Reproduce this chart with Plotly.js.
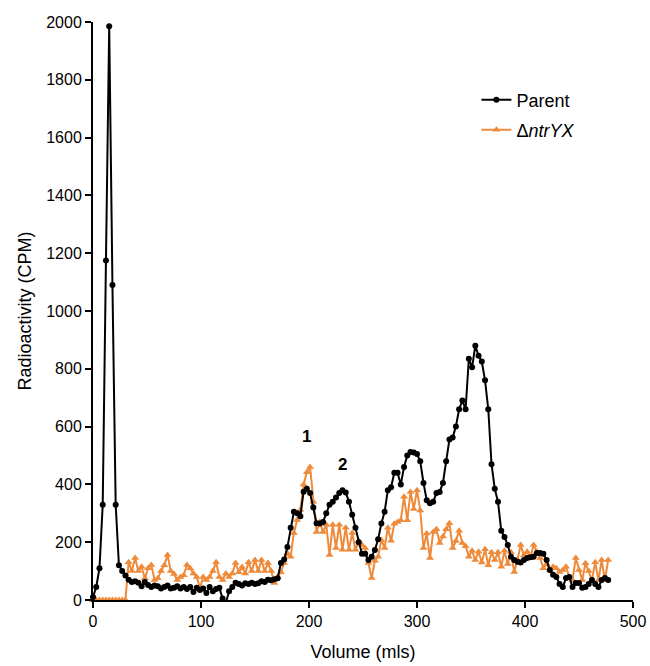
<!DOCTYPE html>
<html>
<head>
<meta charset="utf-8">
<script src="https://cdn.plot.ly/plotly-3.0.1.min.js"></script>
<style>html,body{margin:0;padding:0;background:#fff;}#chart{width:650px;height:666px;}</style>
</head>
<body>
<div id="chart"></div>
<script>
// Parent: fractions every 3 mL from 0 to 477
const parentStart = 0;
const parentY = [
10,45,110,330,1175,1985,1090,330,120,100,
85,70,62,65,60,48,62,52,45,50,
48,40,45,50,40,42,48,40,45,38,
45,28,42,35,40,24,45,30,38,42,
5,-10,30,45,60,55,50,58,55,60,
55,58,65,62,70,68,72,75,128,140,
183,250,305,300,290,375,385,370,320,266,
265,270,300,330,340,355,370,380,372,340,
295,250,200,160,160,138,150,173,210,265,
305,380,390,440,440,400,460,500,512,510,
505,480,405,345,335,340,370,374,405,480,
555,562,600,660,690,660,835,805,880,845,
825,760,660,470,385,340,240,218,190,150,
138,132,130,138,145,148,150,163,163,160,
138,104,87,80,55,45,76,80,45,59,
59,42,45,55,69,55,45,69,76,69
];
// ΔntrYX: fractions every 3 mL from 0 to 477
const mutantY = [
0,0,0,0,0,0,0,0,0,0,
0,131,100,145,100,115,75,110,121,69,
75,100,120,156,100,90,69,80,86,121,
110,92,80,41,80,69,80,100,131,80,
69,92,80,92,128,96,114,92,131,100,
138,100,138,100,128,100,59,80,96,128,
162,150,232,277,311,400,442,460,340,235,
270,235,260,156,260,180,260,174,250,174,
232,174,204,190,180,128,76,136,150,208,
180,250,205,264,270,276,357,276,374,315,
380,310,180,230,145,235,245,197,220,245,
266,180,204,240,197,186,150,170,138,167,
130,176,120,165,138,165,115,170,125,165,
97,140,190,155,167,145,190,167,145,110,
125,104,115,110,97,104,115,80,69,145,
104,69,127,100,69,131,69,138,69,138
];
const step = 3;
const parentX = parentY.map((_, i) => parentStart + i * step);
const mutantX = mutantY.map((_, i) => i * step);

const xTicks = [0, 100, 200, 300, 400, 500];
const yTicks = [0, 200, 400, 600, 800, 1000, 1200, 1400, 1600, 1800, 2000];
const peakLabels = ["1", "2"];
const peakX = [198, 231];
const peakY = [565, 470];

const FONT = "Liberation Sans, Arial, Helvetica, sans-serif";
const ORANGE = "#EF8A3A";

const traces = [
  {
    x: mutantX, y: mutantY, name: "Δ<i>ntrYX</i>", type: "scatter", mode: "lines+markers",
    line: {color: ORANGE, width: 2}, marker: {symbol: "triangle-up", size: 7, color: ORANGE},
    cliponaxis: false, legend: "legend2"
  },
  {
    x: parentX, y: parentY, name: "Parent", type: "scatter", mode: "lines+markers",
    line: {color: "#000", width: 2}, marker: {symbol: "circle", size: 6, color: "#000"},
    cliponaxis: false, legend: "legend"
  }
];

const layout = {
  width: 650, height: 666,
  margin: {l: 93, r: 17, t: 22, b: 66},
  paper_bgcolor: "#fff", plot_bgcolor: "#fff",
  font: {family: FONT, size: 16, color: "#000"},
  showlegend: true,
  legend: {x: 0.71, y: 0.897, xanchor: "left", yanchor: "top", bgcolor: "rgba(0,0,0,0)", font: {size: 18, family: FONT}},
  legend2: {x: 0.71, y: 0.845, xanchor: "left", yanchor: "top", bgcolor: "rgba(0,0,0,0)", font: {size: 18, family: FONT}},
  xaxis: {
    range: [0, 500], tickvals: xTicks, ticktext: xTicks.map(String),
    showgrid: false, zeroline: false, showline: true, linecolor: "#000", linewidth: 2,
    ticks: "outside", ticklen: 6, tickwidth: 2, tickcolor: "#000",
    tickfont: {size: 16, family: FONT},
    title: {text: "Volume (mls)", font: {size: 18, family: FONT}, standoff: 16}
  },
  yaxis: {
    range: [0, 2000], tickvals: yTicks, ticktext: yTicks.map(String),
    showgrid: false, zeroline: false, showline: true, linecolor: "#000", linewidth: 2,
    ticks: "outside", ticklen: 6, tickwidth: 2, tickcolor: "#000",
    tickfont: {size: 16, family: FONT},
    title: {text: "Radioactivity (CPM)", font: {size: 18, family: FONT}, standoff: 10}
  },
  annotations: peakLabels.map((t, i) => ({
    x: peakX[i], y: peakY[i], xref: "x", yref: "y", text: "<b>" + t + "</b>",
    showarrow: false, font: {size: 17, family: FONT, color: "#000"}
  }))
};

Plotly.newPlot("chart", traces, layout, {displayModeBar: false, staticPlot: true});
</script>
</body>
</html>
